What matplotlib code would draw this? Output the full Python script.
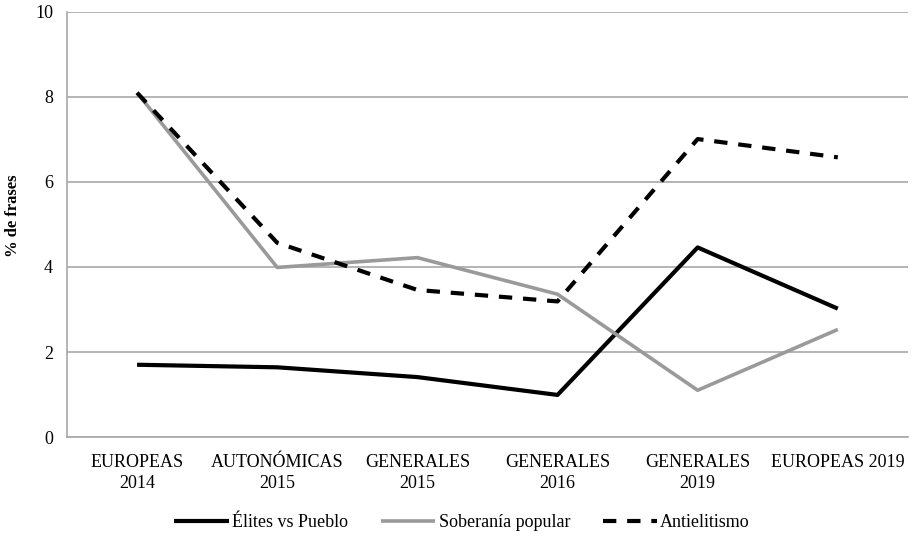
import numpy as np
import matplotlib.pyplot as plt

# % de frases por elección
categorias = ['EUROPEAS\n2014', 'AUTONÓMICAS\n2015', 'GENERALES\n2015',
              'GENERALES\n2016', 'GENERALES\n2019', 'EUROPEAS 2019']
elites = [1.70, 1.64, 1.41, 0.99, 4.46, 3.02]
soberania = [8.10, 3.99, 4.22, 3.36, 1.10, 2.53]
antielitismo = [8.10, 4.57, 3.46, 3.19, 7.01, 6.58]

plt.rcParams['font.family'] = ['Liberation Serif', 'DejaVu Serif']

fig = plt.figure(figsize=(9.14, 5.37), dpi=100)
ax = fig.add_axes([0.0733, 0.1862, 0.92, 0.7915])

x = np.arange(len(categorias))
ax.plot(x, elites, color='black', lw=3.0, label='Élites vs Pueblo', solid_capstyle='butt')
ax.plot(x, soberania, color='#9a9a9a', lw=2.6, label='Soberanía popular', solid_capstyle='butt')
ax.plot(x, antielitismo, color='black', lw=3.0, dashes=(3.2, 2.6), label='Antielitismo')

ax.set_xlim(-0.5, len(categorias) - 0.5)
ax.set_ylim(0, 10)
ax.set_yticks([0, 2, 4, 6, 8, 10])
ax.yaxis.grid(True, color='#a8a8a8', lw=1.2)
ax.set_axisbelow(True)
ax.set_xticks(x)
ax.set_xticklabels(categorias, fontsize=13, linespacing=1.35)
ax.tick_params(axis='both', length=0, labelsize=13)
ax.tick_params(axis='x', pad=12)
ax.tick_params(axis='y', pad=10)
for s in ['top', 'right']:
    ax.spines[s].set_visible(False)
for s in ['left', 'bottom']:
    ax.spines[s].set_color('#a8a8a8')
    ax.spines[s].set_linewidth(1.2)

ax.set_ylabel('% de frases', fontsize=12, fontweight='bold')
ax.yaxis.set_label_coords(-0.055, 0.52)

ax.legend(loc='upper center', bbox_to_anchor=(0.47, -0.143), ncol=3, frameon=False,
          fontsize=13, handlelength=3.0, columnspacing=1.8, handletextpad=0.2)

fig.savefig('out.png', dpi=100)
